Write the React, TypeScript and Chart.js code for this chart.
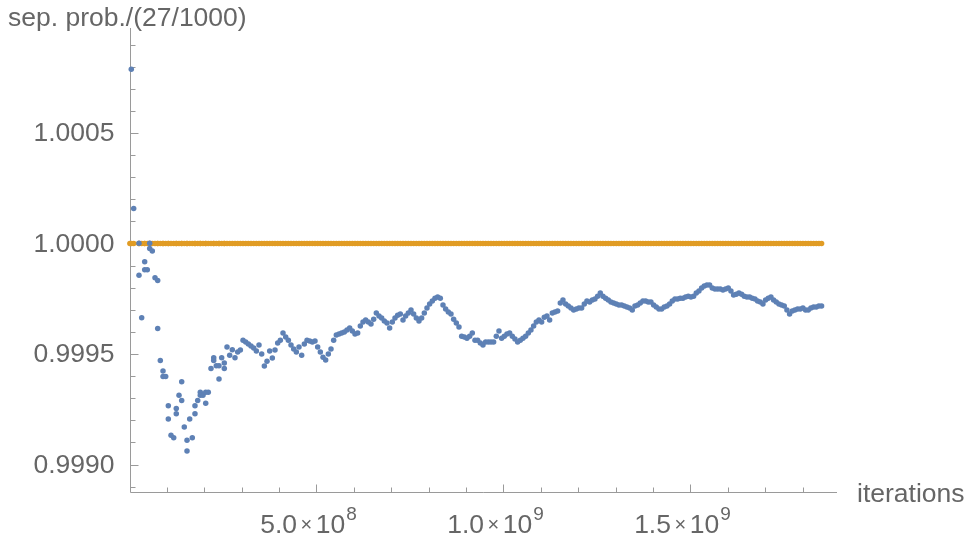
import React, { useEffect, useRef } from "react";
import { Chart, registerables } from "chart.js";

Chart.register(...registerables);

// ---- data (iterations, separation probability / (27/1000)) ----
const earlyIterationsM = [
  4.8, 11.2, 25.4, 25.4, 32.6, 40.6, 40.6, 47.6, 54.0, 54.0,
  61.0, 68.2, 75.4, 75.4, 82.4, 89.6, 89.6, 96.8, 103.8, 103.8,
  111.0, 118.2, 125.1, 125.1, 132.4, 139.6, 139.6, 146.5, 153.8, 153.8,
  161.0, 167.9, 175.1, 175.1, 182.4, 189.3, 189.3, 196.5, 203.8, 203.8,
  210.7, 217.9, 225.2, 225.2, 232.1, 239.3, 239.3, 246.5, 253.5, 253.5,
  260.7, 267.9, 274.9, 282.1,
];
const earlyRatio = [
  1.000788, 1.000159, 1.000001, 0.999857, 0.999664, 0.999918, 0.999881, 0.999881, 1.000001, 0.999978,
  0.999966, 0.999845, 0.999833, 0.999616, 0.999471, 0.999423, 0.999399, 0.999399, 0.999266, 0.999206,
  0.999133, 0.999121, 0.999254, 0.99923, 0.999314, 0.999375, 0.99929, 0.99917, 0.99911, 0.999061,
  0.999206, 0.999121, 0.999266, 0.99923, 0.99929, 0.999327, 0.999314, 0.999314, 0.999327, 0.999278,
  0.999327, 0.999435, 0.999483, 0.999471, 0.999447, 0.999447, 0.999387, 0.999483, 0.999459, 0.999435,
  0.999532, 0.999495, 0.999519, 0.999483,
];
const laterStartIterations = 289.3e6;
const laterStepIterations = 7.13e6;
const laterRatio = [
  0.999509, 0.999518, 0.999563, 0.999554, 0.999545, 0.999536, 0.999527, 0.999514, 0.999541, 0.9995,
  0.999446, 0.999468, 0.999514, 0.999482, 0.999518, 0.99955, 0.999563, 0.999595, 0.999577, 0.999563,
  0.999541, 0.999523, 0.999509, 0.999532, 0.999495, 0.999545, 0.999563, 0.999559, 0.999554, 0.999559,
  0.999532, 0.999509, 0.999486, 0.999473, 0.9995, 0.999523, 0.999563, 0.999586, 0.999591, 0.999595,
  0.9996, 0.999609, 0.999618, 0.999604, 0.999591, 0.999595, 0.999627, 0.999645, 0.999654, 0.999645,
  0.999636, 0.999658, 0.999686, 0.999672, 0.999663, 0.999649, 0.99964, 0.999618, 0.999645, 0.999663,
  0.999676, 0.999681, 0.999654, 0.999672, 0.999686, 0.999699, 0.999681, 0.999663, 0.999649, 0.999663,
  0.999686, 0.999708, 0.999726, 0.99974, 0.999753, 0.999758, 0.999753, 0.999722, 0.999704, 0.99969,
  0.999681, 0.999658, 0.99964, 0.999622, 0.999581, 0.999577, 0.999572, 0.999581, 0.999595, 0.999563,
  0.999563, 0.99955, 0.999541, 0.999554, 0.999554, 0.999554, 0.999554, 0.999581, 0.999604, 0.999572,
  0.999581, 0.999591, 0.999595, 0.999581, 0.999568, 0.999554, 0.999563, 0.999572, 0.999581, 0.999595,
  0.999609, 0.999627, 0.999645, 0.999654, 0.999645, 0.999667, 0.999672, 0.999654, 0.999686, 0.99969,
  0.999695, 0.999731, 0.999744, 0.999726, 0.999717, 0.999708, 0.999699, 0.999704, 0.999708, 0.999708,
  0.999726, 0.99974, 0.999735, 0.999744, 0.999749, 0.999762, 0.999776, 0.999762, 0.999753, 0.999744,
  0.999735, 0.999731, 0.999726, 0.999722, 0.999722, 0.999717, 0.999713, 0.999708, 0.999699, 0.999717,
  0.999722, 0.999731, 0.99974, 0.99974, 0.999735, 0.999735, 0.999722, 0.999713, 0.999704, 0.999704,
  0.999713, 0.999717, 0.999726, 0.99974, 0.999749, 0.999749, 0.999753, 0.999753, 0.999758, 0.999762,
  0.999758, 0.999762, 0.999776, 0.999785, 0.999799, 0.999808, 0.999812, 0.999812, 0.999799, 0.999794,
  0.999794, 0.999794, 0.99979, 0.999794, 0.999799, 0.999785, 0.999767, 0.999771, 0.999776, 0.999771,
  0.999762, 0.999758, 0.999758, 0.999753, 0.999749, 0.99974, 0.999735, 0.999726, 0.999744, 0.999753,
  0.999758, 0.999744, 0.999735, 0.999726, 0.999722, 0.999717, 0.999699, 0.999681, 0.999695, 0.999699,
  0.999704, 0.999704, 0.999708, 0.999699, 0.999699, 0.999708, 0.999713, 0.999713, 0.999717, 0.999717,
];
const referenceRatio = 1;

// ---- axes ----
const xMin = 0;
const xMax = 1.892e9;
const yMin = 0.998876;
const yMax = 1.000975;
const xMajorTicks = [5e8, 1e9, 1.5e9];
const xMajorMantissa = ["5.0", "1.0", "1.5"];
const xMajorExponent = ["8", "9", "9"];
const xMinorTicks = [1e8, 2e8, 3e8, 4e8, 6e8, 7e8, 8e8, 9e8, 1.1e9, 1.2e9, 1.3e9, 1.4e9, 1.6e9, 1.7e9, 1.8e9];
const yMajorTicks = [0.999, 0.9995, 1.0, 1.0005];
const yMajorLabels = ["0.9990", "0.9995", "1.0000", "1.0005"];
const yMinorTicks = [0.9989, 0.9991, 0.9992, 0.9993, 0.9994, 0.9996, 0.9997, 0.9998, 0.9999, 1.0001, 1.0002, 1.0003, 1.0004, 1.0006, 1.0007, 1.0008, 1.0009];
const yAxisTitle = "sep. prob./(27/1000)";
const xAxisTitle = "iterations";

const BLUE = "#5E81B5";
const ORANGE = "#E19C24";
const AXIS = "#9a9a9a";
const TEXT = "#666666";
const FONT = '"Liberation Sans", Arial, sans-serif';

const bluePoints = [
  ...earlyIterationsM.map((m, i) => ({ x: m * 1e6, y: earlyRatio[i] })),
  ...laterRatio.map((v, k) => ({ x: laterStartIterations + k * laterStepIterations, y: v })),
];
const orangePoints = [{ x: 1e6, y: referenceRatio }, ...bluePoints.map((p) => ({ x: p.x, y: referenceRatio }))];

const axesPlugin = {
  id: "mmaAxes",
  beforeDatasetsDraw(chart: any) {
    const { ctx, chartArea, scales } = chart;
    const xs = scales.x;
    const ys = scales.y;
    const ax = Math.round(xs.getPixelForValue(0)) + 0.5;
    const ay = Math.round(chartArea.bottom) + 0.5;
    ctx.save();
    ctx.strokeStyle = AXIS;
    ctx.lineWidth = 1;
    ctx.beginPath();
    ctx.moveTo(ax, chartArea.top);
    ctx.lineTo(ax, ay);
    ctx.moveTo(ax, ay);
    ctx.lineTo(chartArea.right, ay);
    yMajorTicks.forEach((v) => {
      const py = Math.round(ys.getPixelForValue(v)) + 0.5;
      ctx.moveTo(ax, py);
      ctx.lineTo(ax + 8, py);
    });
    yMinorTicks.forEach((v) => {
      const py = Math.round(ys.getPixelForValue(v)) + 0.5;
      ctx.moveTo(ax, py);
      ctx.lineTo(ax + 5, py);
    });
    xMajorTicks.forEach((v) => {
      const px = Math.round(xs.getPixelForValue(v)) + 0.5;
      ctx.moveTo(px, ay);
      ctx.lineTo(px, ay - 8);
    });
    xMinorTicks.forEach((v) => {
      const px = Math.round(xs.getPixelForValue(v)) + 0.5;
      ctx.moveTo(px, ay);
      ctx.lineTo(px, ay - 5);
    });
    ctx.stroke();

    ctx.fillStyle = TEXT;
    ctx.font = `26.5px ${FONT}`;
    ctx.textAlign = "right";
    ctx.textBaseline = "middle";
    yMajorTicks.forEach((v, i) => {
      ctx.fillText(yMajorLabels[i], ax - 16, ys.getPixelForValue(v) + 1);
    });
    ctx.textBaseline = "alphabetic";
    ctx.textAlign = "left";
    xMajorTicks.forEach((v, i) => {
      const px = xs.getPixelForValue(v);
      ctx.font = `26.5px ${FONT}`;
      const mw = ctx.measureText(xMajorMantissa[i]).width;
      const tw = ctx.measureText("10").width;
      ctx.font = `20px ${FONT}`;
      const xw = ctx.measureText("\u00D7").width;
      ctx.font = `19px ${FONT}`;
      const ew = ctx.measureText(xMajorExponent[i]).width;
      const gap = 3.5;
      const total = mw + gap + xw + gap + tw + 1 + ew;
      let left = px - total / 2 - 8;
      ctx.font = `26.5px ${FONT}`;
      ctx.fillText(xMajorMantissa[i], left, ay + 40);
      left += mw + gap;
      ctx.font = `20px ${FONT}`;
      ctx.fillText("\u00D7", left, ay + 38);
      left += xw + gap;
      ctx.font = `26.5px ${FONT}`;
      ctx.fillText("10", left, ay + 40);
      left += tw + 1;
      ctx.font = `19px ${FONT}`;
      ctx.fillText(xMajorExponent[i], left, ay + 27);
    });
    ctx.font = `26.5px ${FONT}`;
    ctx.fillText(xAxisTitle, chartArea.right + 20, ay + 9);
    ctx.fillText(yAxisTitle, 8, 26);
    ctx.restore();
  },
};

export default function App() {
  const ref = useRef<HTMLCanvasElement | null>(null);
  useEffect(() => {
    if (!ref.current) return;
    const chart = new Chart(ref.current, {
      type: "scatter",
      data: {
        datasets: [
          {
            data: bluePoints,
            backgroundColor: BLUE,
            borderWidth: 0,
            pointRadius: 2.75,
            clip: false as any,
          },
          {
            data: orangePoints,
            backgroundColor: ORANGE,
            borderWidth: 0,
            pointRadius: 2.75,
            clip: false as any,
          },
        ],
      },
      options: {
        responsive: false,
        animation: false,
        events: [],
        layout: { padding: { left: 129.5, right: 129, top: 28, bottom: 41 } },
        plugins: { legend: { display: false }, tooltip: { enabled: false } },
        scales: {
          x: { type: "linear", display: false, min: xMin, max: xMax },
          y: { type: "linear", display: false, min: yMin, max: yMax },
        },
      },
      plugins: [axesPlugin],
    });
    return () => chart.destroy();
  }, []);
  return (
    <div style={{ position: "absolute", left: 0, top: 0, width: 966, height: 533, background: "#fff" }}>
      <canvas ref={ref} width={966} height={533} style={{ display: "block" }} />
    </div>
  );
}
